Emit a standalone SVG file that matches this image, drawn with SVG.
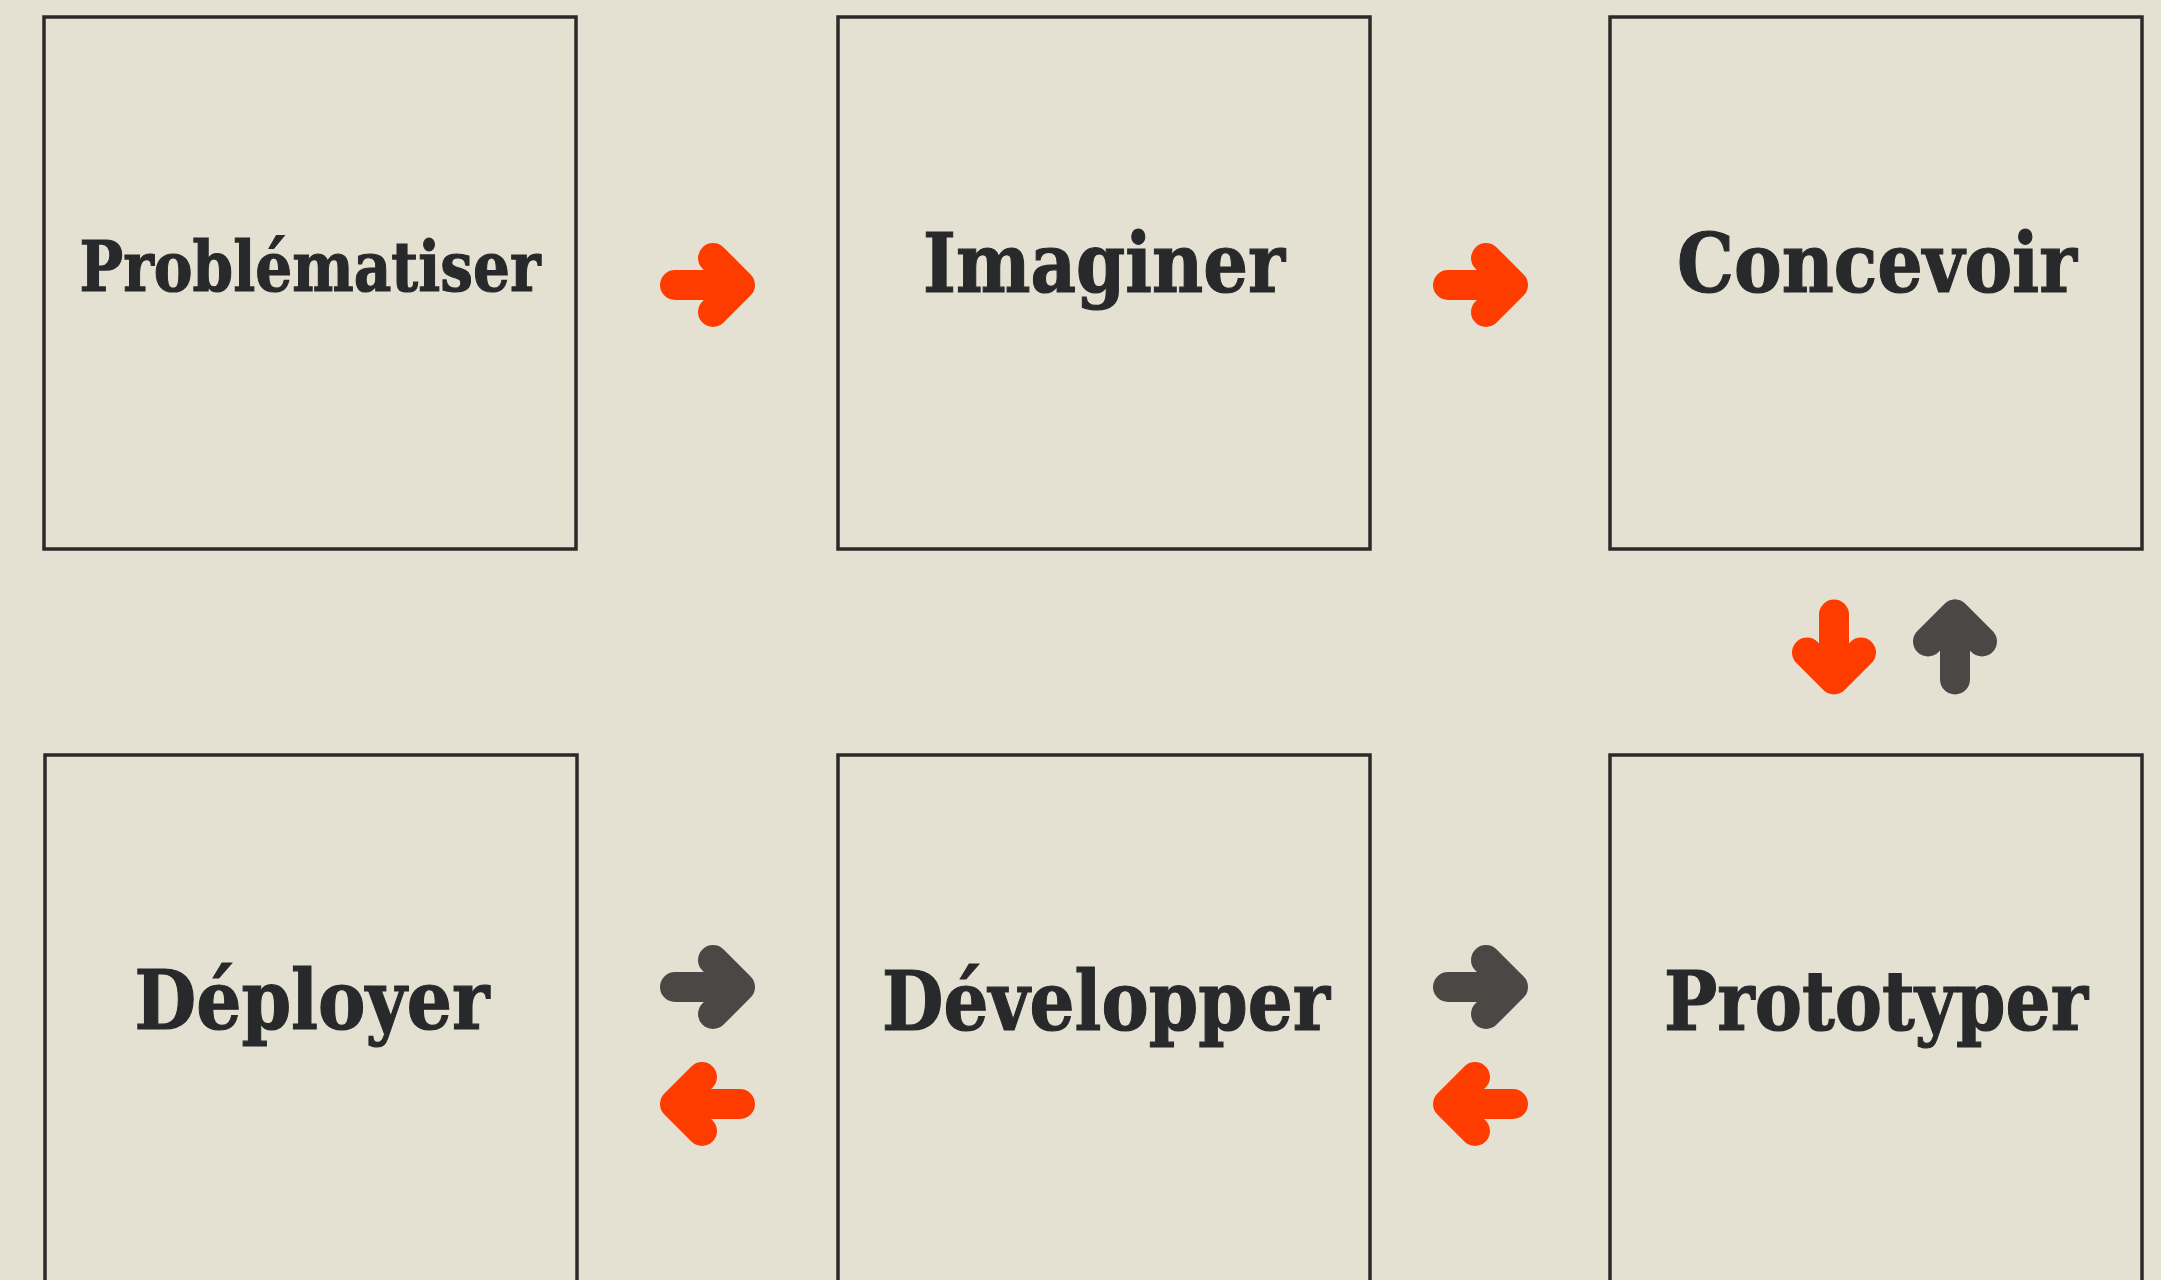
<svg xmlns="http://www.w3.org/2000/svg" xmlns:xlink="http://www.w3.org/1999/xlink" width="2161" height="1280" viewBox="0 0 2161 1280">
<style>
.box{fill:#e4e1d2;stroke:#2b2a28;stroke-width:3.5}
.lbl{font-family:"DejaVu Serif","Liberation Serif",serif;font-weight:bold;fill:#28292b;stroke:#28292b;stroke-width:1.2;text-anchor:middle}
.big{font-size:82px}
.small{font-size:70px}
.red{stroke:#ff3c00}
.gray{stroke:#4a4745}
</style>
<defs>
<g id="arr" fill="none" stroke-width="30" stroke-linecap="round" stroke-linejoin="round">
<path d="M -32.5 0 H 32.5 M 5.5 -27 L 32.5 0 L 5.5 27"/>
</g>
</defs>
<rect width="2161" height="1280" fill="#e4e1d2"/>
<g id="n1"><rect class="box" x="44" y="17" width="532" height="532"/><text class="lbl small" x="310" y="291" textLength="461" lengthAdjust="spacingAndGlyphs">Problématiser</text></g>
<g id="n2"><rect class="box" x="838" y="17" width="532" height="532"/><text class="lbl big" x="1104" y="292" textLength="362" lengthAdjust="spacingAndGlyphs">Imaginer</text></g>
<g id="n3"><rect class="box" x="1610" y="17" width="532" height="532"/><text class="lbl big" x="1877" y="292" textLength="400" lengthAdjust="spacingAndGlyphs">Concevoir</text></g>
<g id="n4"><rect class="box" x="45" y="755" width="532" height="600"/><text class="lbl big" x="312" y="1029" textLength="355" lengthAdjust="spacingAndGlyphs">Déployer</text></g>
<g id="n5"><rect class="box" x="838" y="755" width="532" height="600"/><text class="lbl big" x="1106" y="1030" textLength="448" lengthAdjust="spacingAndGlyphs">Développer</text></g>
<g id="n6"><rect class="box" x="1610" y="755" width="532" height="600"/><text class="lbl big" x="1876" y="1030" textLength="424" lengthAdjust="spacingAndGlyphs">Prototyper</text></g>
<g id="connectors">
<use xlink:href="#arr" class="red" transform="translate(707.5 285)"/>
<use xlink:href="#arr" class="red" transform="translate(1480.5 285)"/>
<use xlink:href="#arr" class="red" transform="translate(1834 647) rotate(90)"/>
<use xlink:href="#arr" class="gray" transform="translate(1955 647) rotate(-90)"/>
<use xlink:href="#arr" class="gray" transform="translate(707.5 987)"/>
<use xlink:href="#arr" class="red" transform="translate(707.5 1104) rotate(180)"/>
<use xlink:href="#arr" class="gray" transform="translate(1480.5 987)"/>
<use xlink:href="#arr" class="red" transform="translate(1480.5 1104) rotate(180)"/>
</g>
</svg>
